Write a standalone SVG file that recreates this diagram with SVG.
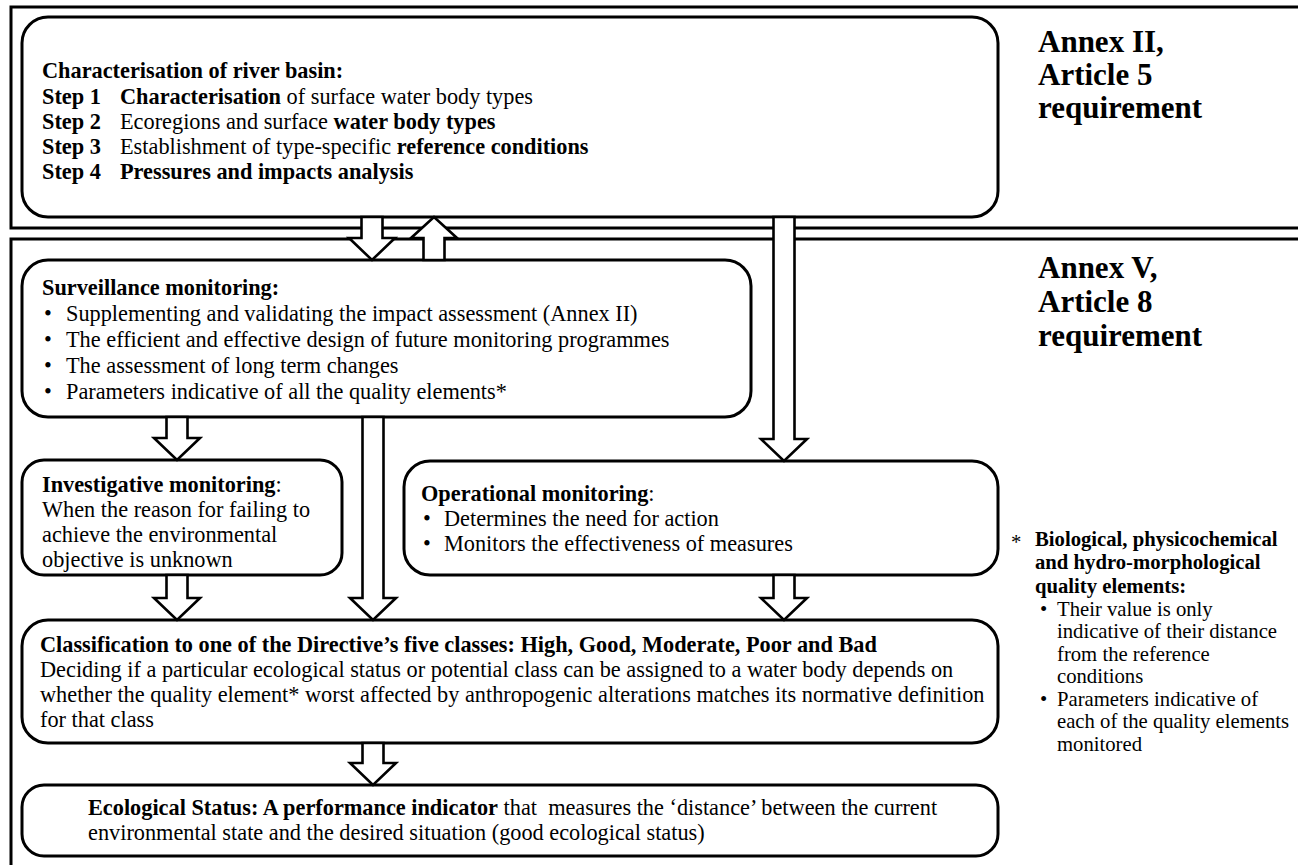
<svg xmlns="http://www.w3.org/2000/svg" width="1298" height="865" viewBox="0 0 1298 865">
<style>
.panel{fill:none;stroke:#000;stroke-width:3}
.box{fill:#fff;stroke:#000;stroke-width:3}
.arr{fill:#fff;stroke:#000;stroke-width:2.6;stroke-linejoin:miter}
text{font-family:"Liberation Serif","Times New Roman",serif;fill:#000}
.t{font-size:22.3px}
.fn{font-size:20.7px}
.ann{font-size:31px;font-weight:bold}
.b{font-weight:bold}
</style>
<rect width="1298" height="865" fill="#fff"/>
<g id="panels">
<rect class="panel" x="11" y="7" width="1300" height="221"/>
<rect class="panel" x="11" y="239" width="1300" height="640"/>
</g>
<g id="annex-ii">
<text class="ann" x="1038" y="52">Annex II,</text>
<text class="ann" x="1038" y="85">Article 5</text>
<text class="ann" x="1038" y="118">requirement</text>
</g>
<g id="annex-v">
<text class="ann" x="1038" y="278">Annex V,</text>
<text class="ann" x="1038" y="312">Article 8</text>
<text class="ann" x="1038" y="346">requirement</text>
</g>
<g id="characterisation">
<rect class="box" x="22" y="17" width="976" height="200" rx="26"/>
<text class="t b" x="42" y="78">Characterisation of river basin:</text>
<text class="t" x="42" y="104"><tspan class="b">Step 1</tspan><tspan x="120" class="b">Characterisation</tspan> of surface water body types</text>
<text class="t" x="42" y="129"><tspan class="b">Step 2</tspan><tspan x="120">Ecoregions and surface </tspan><tspan class="b">water body types</tspan></text>
<text class="t" x="42" y="154"><tspan class="b">Step 3</tspan><tspan x="120">Establishment of type-specific </tspan><tspan class="b">reference conditions</tspan></text>
<text class="t" x="42" y="179"><tspan class="b">Step 4</tspan><tspan x="120" class="b">Pressures and impacts analysis</tspan></text>
</g>
<g id="surveillance">
<rect class="box" x="22" y="260" width="729" height="157" rx="26"/>
<text class="t b" x="42" y="295">Surveillance monitoring:</text>
<text class="t" x="44" y="321">•</text><text class="t" x="66" y="321">Supplementing and validating the impact assessment (Annex II)</text>
<text class="t" x="44" y="347">•</text><text class="t" x="66" y="347">The efficient and effective design of future monitoring programmes</text>
<text class="t" x="44" y="373">•</text><text class="t" x="66" y="373">The assessment of long term changes</text>
<text class="t" x="44" y="399">•</text><text class="t" x="66" y="399">Parameters indicative of all the quality elements*</text>
</g>
<g id="investigative">
<rect class="box" x="22" y="460" width="320" height="115" rx="22"/>
<text class="t" x="42" y="492"><tspan class="b">Investigative monitoring</tspan>:</text>
<text class="t" x="42" y="517">When the reason for failing to</text>
<text class="t" x="42" y="542">achieve the environmental</text>
<text class="t" x="42" y="567">objective is unknown</text>
</g>
<g id="operational">
<rect class="box" x="404" y="461" width="594" height="114" rx="26"/>
<text class="t" x="421" y="501"><tspan class="b">Operational monitoring</tspan>:</text>
<text class="t" x="423" y="526">•</text><text class="t" x="444" y="526">Determines the need for action</text>
<text class="t" x="423" y="551">•</text><text class="t" x="444" y="551">Monitors the effectiveness of measures</text>
</g>
<g id="classification">
<rect class="box" x="22" y="620" width="976" height="123" rx="26"/>
<text class="t b" x="40" y="652">Classification to one of the Directive’s five classes: High, Good, Moderate, Poor and Bad</text>
<text class="t" x="40" y="677">Deciding if a particular ecological status or potential class can be assigned to a water body depends on</text>
<text class="t" x="40" y="702">whether the quality element* worst affected by anthropogenic alterations matches its normative definition</text>
<text class="t" x="40" y="727">for that class</text>
</g>
<g id="ecological-status">
<rect class="box" x="22" y="785" width="976" height="71" rx="22"/>
<text class="t" x="88" y="815" xml:space="preserve"><tspan class="b">Ecological Status: A performance indicator</tspan> that  measures the ‘distance’ between the current</text>
<text class="t" x="88" y="840">environmental state and the desired situation (good ecological status)</text>
</g>
<g id="footnote">
<text class="fn" x="1011" y="549">*</text>
<text class="fn b" x="1035" y="546">Biological, physicochemical</text>
<text class="fn b" x="1035" y="569">and hydro-morphological</text>
<text class="fn b" x="1035" y="593">quality elements:</text>
<text class="fn" x="1040" y="616">•</text><text class="fn" x="1057" y="616">Their value is only</text>
<text class="fn" x="1057" y="638">indicative of their distance</text>
<text class="fn" x="1057" y="661">from the reference</text>
<text class="fn" x="1057" y="683">conditions</text>
<text class="fn" x="1040" y="706">•</text><text class="fn" x="1057" y="706">Parameters indicative of</text>
<text class="fn" x="1057" y="728">each of the quality elements</text>
<text class="fn" x="1057" y="751">monitored</text>
</g>
<g id="connectors">
<path class="arr" d="M361.5 217H382.5V238H395L372 260L349 238H361.5Z"/>
<path class="arr" d="M423.5 260H444.5V238H457L434 217L411 238H423.5Z"/>
<path class="arr" d="M773.5 217H794.5V439H807L784 461L761 439H773.5Z"/>
<path class="arr" d="M166.5 417H187.5V438H200L177 460L154 438H166.5Z"/>
<path class="arr" d="M362.5 417H383.5V598H396L373 620L350 598H362.5Z"/>
<path class="arr" d="M166.5 575H187.5V598H200L177 620L154 598H166.5Z"/>
<path class="arr" d="M773.5 575H794.5V598H807L784 620L761 598H773.5Z"/>
<path class="arr" d="M362.5 743H383.5V763H396L373 785L350 763H362.5Z"/>
</g>
</svg>
